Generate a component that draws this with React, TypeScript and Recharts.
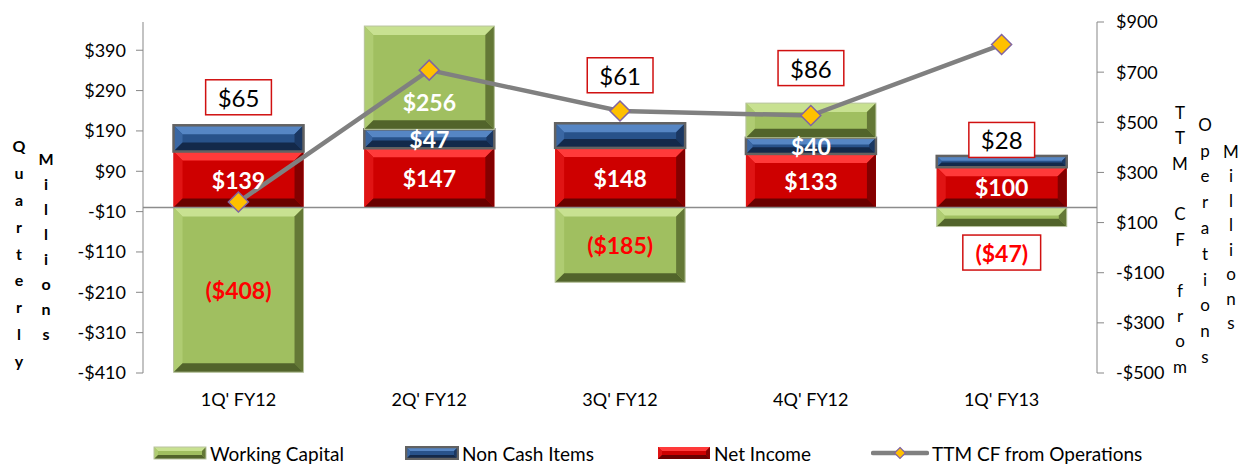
import React from "react";
import {
  ComposedChart,
  Bar,
  Line,
  XAxis,
  YAxis,
  ReferenceLine,
  LabelList,
} from "recharts";

// quarterly cash flow build-up, $ millions
const categories = ["1Q' FY12", "2Q' FY12", "3Q' FY12", "4Q' FY12", "1Q' FY13"];
const netIncome = [139, 147, 148, 133, 100];
const nonCashItems = [65, 47, 61, 40, 28];
const workingCapital = [-408, 256, -185, 86, -47];
const ttmCashFlow = [182, 708, 545, 527, 810];

const leftTicks = [-410, -310, -210, -110, -10, 90, 190, 290, 390];
const rightTicks = [-500, -300, -100, 100, 300, 500, 700, 900];

// how each data label is drawn (Excel labels were hand placed)
type LabelKind = "white" | "red" | "box" | "boxRed";
const nonCashKind: LabelKind[] = ["box", "white", "box", "white", "box"];
const nonCashDy = [-28, 0, -48, 0, -16];
const wcKind: LabelKind[] = ["red", "white", "red", "box", "boxRed"];
const wcDy = [0, 24, 0, -35, 26];

const FONT = "Lato, 'Open Sans', sans-serif";

const data = categories.map((c, i) => ({
  name: c,
  ni: netIncome[i],
  nc: nonCashItems[i],
  wc: workingCapital[i],
  ttm: ttmCashFlow[i],
}));

type Pal = { base: string; top: string; left: string; right: string; bottom: string; stroke: string; sw: number };

const PAL: Record<string, Pal> = {
  wc: { base: "#A0BF60", top: "#C8E191", left: "#AFCC72", right: "#647836", bottom: "#52642B", stroke: "#B9C4A0", sw: 1 },
  nc: { base: "#28528A", top: "#5686C4", left: "#3A67A3", right: "#1A3762", bottom: "#13294A", stroke: "#626262", sw: 2.5 },
  ni: { base: "#CE0000", top: "#FF3A3A", left: "#E01414", right: "#840000", bottom: "#6A0000", stroke: "none", sw: 0 },
};

function bevelRect(x: number, y: number, w: number, h: number, p: Pal, maxB = 9) {
  const b = Math.max(0, Math.min(maxB, h / 2.4, w / 2));
  const pts = (a: number[][]) => a.map((q) => q.join(",")).join(" ");
  return (
    <g>
      <rect x={x} y={y} width={w} height={h} fill={p.base} />
      <polygon points={pts([[x, y], [x + w, y], [x + w - b, y + b], [x + b, y + b]])} fill={p.top} />
      <polygon points={pts([[x, y], [x + b, y + b], [x + b, y + h - b], [x, y + h]])} fill={p.left} />
      <polygon points={pts([[x + w, y], [x + w, y + h], [x + w - b, y + h - b], [x + w - b, y + b]])} fill={p.right} />
      <polygon points={pts([[x, y + h], [x + b, y + h - b], [x + w - b, y + h - b], [x + w, y + h]])} fill={p.bottom} />
      {p.sw > 0 && (
        <rect x={x} y={y} width={w} height={h} fill="none" stroke={p.stroke} strokeWidth={p.sw} />
      )}
    </g>
  );
}

const bevelShape = (p: Pal) => (props: any) => {
  let { x, y, width, height } = props;
  if (height == null || width == null) return null;
  if (height < 0) {
    y = y + height;
    height = -height;
  }
  if (height < 0.5) return null;
  return bevelRect(x, y, width, height, p);
};

function textWidth(s: string, size: number) {
  let w = 0;
  for (const ch of s) w += ch === "(" || ch === ")" ? 0.3 : 0.58;
  return w * size;
}

const makeLabel = (kinds: LabelKind[] | null, dys: number[] | null) => (props: any) => {
  const { x, width, index, value } = props;
  let { y, height } = props;
  if (value == null) return null;
  if (height < 0) {
    y = y + height;
    height = -height;
  }
  const kind: LabelKind = kinds ? kinds[index] : "white";
  const dy = dys ? dys[index] : 0;
  const cx = x + width / 2;
  const txt = value < 0 ? `($${Math.abs(value)})` : `$${value}`;
  if (kind === "white" || kind === "red") {
    return (
      <text
        x={cx}
        y={y + height / 2 + dy}
        textAnchor="middle"
        dominantBaseline="central"
        fontFamily={FONT}
        fontWeight={700}
        fontSize={23}
        fill={kind === "white" ? "#FFFFFF" : "#FF0000"}
      >
        {txt}
      </text>
    );
  }
  // boxed label, placed above the top (dy<0) or below the bottom (dy>0)
  const cy = dy < 0 ? y + dy : y + height + dy;
  const red = kind === "boxRed";
  const fs = red ? 23 : 24;
  const bw = textWidth(txt, fs) + 24;
  const bh = 35;
  return (
    <g>
      <rect x={cx - bw / 2} y={cy - bh / 2} width={bw} height={bh} fill="#FFFFFF" stroke="#D01010" strokeWidth={1.5} />
      <text
        x={cx}
        y={cy}
        textAnchor="middle"
        dominantBaseline="central"
        fontFamily={FONT}
        fontWeight={red ? 700 : 400}
        fontSize={fs}
        fill={red ? "#FF0000" : "#000000"}
      >
        {txt}
      </text>
    </g>
  );
};

const Diamond = (props: any) => {
  const { cx, cy } = props;
  if (cx == null || cy == null) return null;
  const r = 10;
  return (
    <polygon
      points={`${cx},${cy - r} ${cx + r},${cy} ${cx},${cy + r} ${cx - r},${cy}`}
      fill="#FFC000"
      stroke="#8064A2"
      strokeWidth={1.5}
    />
  );
};

const money = (v: number) => (v < 0 ? `-$${Math.abs(v)}` : `$${v}`);

function Stacked({ text, x, y0, step, bold, size }: { text: string; x: number; y0: number; step: number; bold?: boolean; size: number }) {
  return (
    <>
      {text.split("").map((ch, i) => (
        <div
          key={i}
          style={{
            position: "absolute",
            left: x - 15,
            width: 30,
            top: y0 + i * step - size * 0.6,
            height: size * 1.2,
            lineHeight: `${size * 1.2}px`,
            textAlign: "center",
            fontFamily: FONT,
            fontWeight: bold ? 700 : 400,
            fontSize: size,
            color: "#000",
          }}
        >
          {ch === " " ? "\u00a0" : ch}
        </div>
      ))}
    </>
  );
}

function Swatch({ p }: { p: Pal }) {
  return (
    <svg width={54} height={14} style={{ display: "block" }}>
      {bevelRect(1, 1, 52, 12, p, 4)}
    </svg>
  );
}

function LegendItem({ left, label, children }: { left: number; label: string; children: React.ReactNode }) {
  return (
    <div style={{ position: "absolute", left, top: 441, height: 24, display: "flex", alignItems: "center" }}>
      {children}
      <span style={{ marginLeft: 3, fontFamily: FONT, fontSize: 19, color: "#000" }}>{label}</span>
    </div>
  );
}

export default function App() {
  return (
    <div style={{ position: "absolute", left: 0, top: 0, width: 1242, height: 464, background: "#fff" }}>
      <ComposedChart
        width={1242}
        height={464}
        data={data}
        stackOffset="sign"
        barCategoryGap="16%"
        margin={{ top: 22, right: 0, bottom: 61, left: 0 }}
      >
        <XAxis
          dataKey="name"
          axisLine={false}
          tickLine={false}
          tickSize={0}
          tickMargin={20}
          height={30}
          tick={{ fontFamily: FONT, fontSize: 18, fill: "#000" }}
        />
        <YAxis
          yAxisId="left"
          width={143}
          domain={[-410, 460]}
          ticks={leftTicks}
          allowDataOverflow
          tickFormatter={money}
          stroke="#878787"
          tickSize={7}
          tickMargin={10}
          tick={{ fontFamily: FONT, fontSize: 18, fill: "#000" }}
        />
        <YAxis
          yAxisId="right"
          orientation="right"
          width={145}
          domain={[-500, 900]}
          ticks={rightTicks}
          allowDataOverflow
          tickFormatter={money}
          stroke="#878787"
          tickSize={7}
          tickMargin={12}
          tick={{ fontFamily: FONT, fontSize: 18, fill: "#000", textAnchor: "start" }}
        />
        <ReferenceLine yAxisId="left" y={0} stroke="#8C8C8C" strokeWidth={1.5} />
        <Bar yAxisId="left" dataKey="ni" stackId="a" shape={bevelShape(PAL.ni)} isAnimationActive={false}>
          <LabelList dataKey="ni" content={makeLabel(null, null)} />
        </Bar>
        <Bar yAxisId="left" dataKey="nc" stackId="a" shape={bevelShape(PAL.nc)} isAnimationActive={false}>
          <LabelList dataKey="nc" content={makeLabel(nonCashKind, nonCashDy)} />
        </Bar>
        <Bar yAxisId="left" dataKey="wc" stackId="a" shape={bevelShape(PAL.wc)} isAnimationActive={false}>
          <LabelList dataKey="wc" content={makeLabel(wcKind, wcDy)} />
        </Bar>
        <Line
          yAxisId="right"
          dataKey="ttm"
          type="linear"
          stroke="#808080"
          strokeWidth={4.5}
          dot={<Diamond />}
          activeDot={false}
          isAnimationActive={false}
        />
      </ComposedChart>

      <Stacked text="Quarterly" x={19} y0={146} step={26.8} bold size={16} />
      <Stacked text="Millions" x={46} y0={159} step={25} bold size={16} />
      <Stacked text="TTM CF from" x={1180} y0={113} step={25.4} size={17} />
      <Stacked text="Operations" x={1205} y0={125} step={25.8} size={17} />
      <Stacked text="Millions" x={1231} y0={152} step={24.5} size={17} />

      <LegendItem left={153} label="Working Capital">
        <Swatch p={PAL.wc} />
      </LegendItem>
      <LegendItem left={405} label="Non Cash Items">
        <Swatch p={PAL.nc} />
      </LegendItem>
      <LegendItem left={657} label="Net Income">
        <Swatch p={PAL.ni} />
      </LegendItem>
      <LegendItem left={871} label="TTM CF from Operations">
        <svg width={58} height={14} style={{ display: "block" }}>
          <line x1={2} y1={7} x2={56} y2={7} stroke="#808080" strokeWidth={4.5} strokeLinecap="round" />
          <polygon points="29,1.5 34.5,7 29,12.5 23.5,7" fill="#FFC000" stroke="#8064A2" strokeWidth={1.2} />
        </svg>
      </LegendItem>
    </div>
  );
}
